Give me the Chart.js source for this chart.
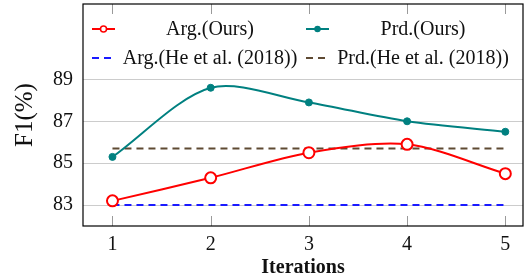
<!DOCTYPE html>
<html>
<head>
<meta charset="utf-8">
<script src="https://cdn.jsdelivr.net/npm/chart.js@4"></script>
<style>
  html, body { margin: 0; padding: 0; background: #fff; }
  #wrap { width: 525px; height: 280px; }
</style>
</head>
<body>
<div id="wrap"><canvas id="chart" width="525" height="280"></canvas></div>
<script>
// Data
const iterations = [1, 2, 3, 4, 5];
const argOurs = [83.2, 84.3, 85.5, 85.9, 84.5];
const prdOurs = [85.3, 88.6, 87.9, 87.0, 86.5];
const argHe = [83.0, 83.0, 83.0, 83.0, 83.0];
const prdHe = [85.7, 85.7, 85.7, 85.7, 85.7];
const yTicks = [83, 85, 87, 89];
const seriesLabels = ['Arg.(Ours)', 'Prd.(Ours)', 'Arg.(He et al. (2018))', 'Prd.(He et al. (2018))'];

const FONT = "'Liberation Serif', 'DejaVu Serif', serif";

function points(values) {
    return iterations.map((x, i) => ({ x: x, y: values[i] }));
}

// Frame and tick marks drawn inside it, like pgfplots
const frameTicks = {
    id: 'frameTicks',
    afterDatasetsDraw(chart) {
        const { ctx, chartArea: a, scales } = chart;
        ctx.save();
        ctx.strokeStyle = '#9a9a9a';
        ctx.lineWidth = 1;
        iterations.forEach(v => {
            const x = Math.round(scales.x.getPixelForValue(v)) + 0.5;
            ctx.beginPath();
            ctx.moveTo(x, a.bottom); ctx.lineTo(x, a.bottom - 10);
            ctx.moveTo(x, a.top); ctx.lineTo(x, a.top + 10);
            ctx.stroke();
        });
        ctx.strokeStyle = '#000';
        ctx.lineWidth = 1.2;
        ctx.strokeRect(a.left, a.top, a.right - a.left, a.bottom - a.top);
        ctx.restore();
    }
};

// Two-column legend inside the plot area
const innerLegend = {
    id: 'innerLegend',
    afterDraw(chart) {
        const { ctx, chartArea: a } = chart;
        const ds = chart.data.datasets;
        const rows = [a.top + 25, a.top + 54];
        const cols = [
            { mx: a.left + 9, tx: a.left + 127 },
            { mx: a.left + 223, tx: a.left + 340 }
        ];
        ctx.save();
        ctx.font = '20px ' + FONT;
        ctx.textAlign = 'center';
        ctx.textBaseline = 'middle';
        ds.forEach((d, i) => {
            const c = cols[i % 2];
            const y = rows[Math.floor(i / 2)];
            ctx.strokeStyle = d.borderColor;
            ctx.lineWidth = 2;
            ctx.setLineDash(d.borderDash || []);
            ctx.beginPath();
            ctx.moveTo(c.mx, y);
            ctx.lineTo(c.mx + 23, y);
            ctx.stroke();
            ctx.setLineDash([]);
            if (d.pointRadius > 0) {
                ctx.beginPath();
                ctx.arc(c.mx + 11.5, y, d.pointRadius > 4 ? 3 : 2.5, 0, Math.PI * 2);
                ctx.fillStyle = d.pointBackgroundColor;
                ctx.fill();
                ctx.lineWidth = 1.5;
                ctx.stroke();
            }
            ctx.fillStyle = '#111';
            ctx.fillText(d.label, c.tx, y + 1);
        });
        ctx.restore();
    }
};

new Chart(document.getElementById('chart').getContext('2d'), {
    type: 'line',
    data: {
        datasets: [
            {
                label: seriesLabels[0],
                data: points(argOurs),
                borderColor: '#ff0000',
                backgroundColor: '#ffffff',
                pointBackgroundColor: '#ffffff',
                pointBorderColor: '#ff0000',
                pointBorderWidth: 2,
                pointRadius: 5.5,
                borderWidth: 2,
                tension: 0.3,
                clip: false,
                order: 1
            },
            {
                label: seriesLabels[1],
                data: points(prdOurs),
                borderColor: '#008080',
                backgroundColor: '#008080',
                pointBackgroundColor: '#008080',
                pointBorderColor: '#008080',
                pointBorderWidth: 1,
                pointRadius: 3.5,
                borderWidth: 2,
                tension: 0.3,
                order: 2
            },
            {
                label: seriesLabels[2],
                data: points(argHe),
                borderColor: '#1a1aff',
                borderDash: [7, 5],
                pointRadius: 0,
                borderWidth: 2,
                order: 3
            },
            {
                label: seriesLabels[3],
                data: points(prdHe),
                borderColor: '#5e4a33',
                borderDash: [7, 5],
                pointRadius: 0,
                borderWidth: 2,
                order: 4
            }
        ]
    },
    options: {
        responsive: false,
        animation: false,
        layout: { autoPadding: false, padding: { top: 4, right: 2, left: 0, bottom: 0 } },
        plugins: {
            legend: { display: false },
            tooltip: { enabled: false }
        },
        scales: {
            x: {
                type: 'linear',
                min: 0.7,
                max: 5.18,
                afterBuildTicks: axis => { axis.ticks = iterations.map(v => ({ value: v })); },
                afterFit: axis => { axis.height = 54; axis.paddingLeft = 0; axis.paddingRight = 0; },
                grid: { display: false, drawTicks: false },
                border: { display: false },
                ticks: {
                    color: '#111',
                    font: { family: FONT, size: 20 },
                    padding: 7,
                    maxRotation: 0
                },
                title: {
                    display: true,
                    text: 'Iterations',
                    color: '#111',
                    font: { family: FONT, size: 20, weight: 'bold' },
                    padding: { top: 0, bottom: 0 }
                }
            },
            y: {
                min: 82,
                max: 92.6,
                afterBuildTicks: axis => { axis.ticks = yTicks.map(v => ({ value: v })); },
                afterFit: axis => { axis.width = 83; axis.paddingTop = 0; axis.paddingBottom = 0; },
                grid: { color: '#cccccc', drawTicks: false },
                border: { display: false },
                ticks: {
                    color: '#111',
                    font: { family: FONT, size: 20 },
                    padding: 10
                },
                title: {
                    display: true,
                    text: 'F1(%)',
                    color: '#111',
                    font: { family: FONT, size: 25 },
                    padding: { top: 10, bottom: 0 }
                }
            }
        }
    },
    plugins: [frameTicks, innerLegend]
});
</script>
</body>
</html>
